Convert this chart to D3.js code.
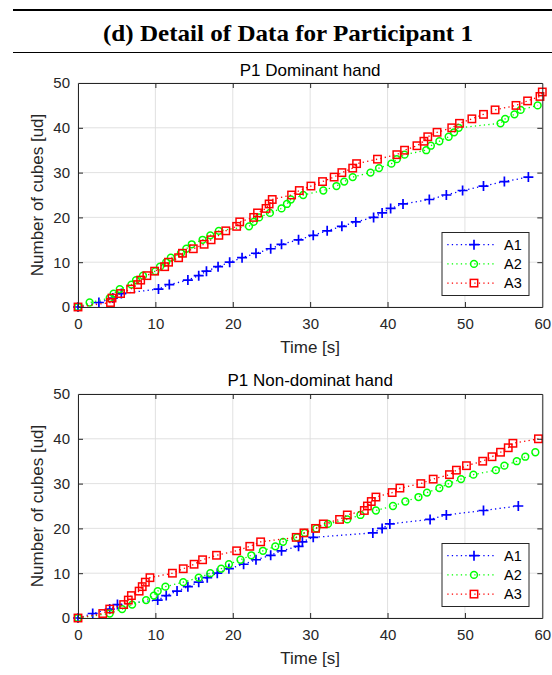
<!DOCTYPE html>
<html><head><meta charset="utf-8">
<script src="https://cdn.jsdelivr.net/npm/d3@7"></script>
<style>body{margin:0;background:#fff}</style>
</head><body>
<svg id="c" width="552" height="675"></svg>
<script>
// ---------- data ----------
const headerTitle = "(d) Detail of Data for Participant 1";
const panelTitles = ["P1 Dominant hand", "P1 Non-dominat hand"];
const xLabel = "Time [s]";
const yLabel = "Number of cubes [ud]";
const seriesNames = ["A1", "A2", "A3"];
const xTicks = [0, 10, 20, 30, 40, 50, 60];
const yTicks = [0, 10, 20, 30, 40, 50];

// Dominant hand
const domA1T = [0,2.7,4.5,5.6,10.4,11.8,14.2,15.6,16.6,18.1,19.6,21.2,23.0,24.9,26.3,28.5,30.4,32.2,34.1,35.9,38.2,39.3,40.4,42.0,45.4,47.6,49.7,52.4,55.1,58.2];
const domA1V = [0,1,2,3,4,5,6,7,8,9,10,11,12,13,14,15,16,17,18,19,20,21,22,23,24,25,26,27,28,29];
const domA2T = [0,1.5,4.1,4.6,5.4,6.9,7.5,8.4,10.0,10.6,11.4,12.0,13.3,14.0,14.7,16.1,17.1,18.2,22.1,22.7,23.4,24.8,26.3,27.0,27.5,29.1,31.7,33.4,34.4,35.5,37.8,38.9,40.5,41.2,42.2,45.0,45.6,46.7,47.9,48.6,49.2,54.6,55.2,56.4,57.2,59.4];
const domA2V = [0,1,2,3,4,5,6,7,8,9,10,11,12,13,14,15,16,17,18,19,20,21,22,23,24,25,26,27,28,29,30,31,32,33,34,35,36,37,38,39,40,41,42,43,44,45];
const domA3T = [0,4.2,4.4,5.5,6.8,7.7,8.1,8.9,9.9,11.2,11.7,13.0,13.5,14.9,16.3,17.2,18.2,19.1,20.5,20.9,22.7,23.2,24.3,24.7,25.1,27.6,28.6,30.1,31.6,33.1,34.1,35.5,36.0,38.7,41.2,42.2,43.8,44.7,45.2,46.4,48.3,49.3,50.9,52.4,53.9,56.6,58.1,59.7,60.0];
const domA3V = [0,1,2,3,4,5,6,7,8,9,10,11,12,13,14,15,16,17,18,19,20,21,22,23,24,25,26,27,28,29,30,31,32,33,34,35,36,37,38,39,40,41,42,43,44,45,46,47,48];

// Non-dominant hand
const nonA1T = [0,1.9,4.1,5.1,10.3,11.4,12.8,14.2,15.6,16.7,18.0,19.5,21.4,23.0,24.9,26.3,28.5,29.0,30.4,38.1,39.3,40.3,45.5,47.6,52.4,56.9];
const nonA1V = [0,1,2,3,4,5,6,7,8,9,10,11,12,13,14,15,16,17,18,19,20,21,22,23,24,25];
const nonA2T = [0,4.1,5.7,7.0,8.8,9.8,10.3,11.3,13.6,15.6,17.1,18.5,19.5,21.0,22.4,23.9,25.5,26.5,28.3,29.3,30.8,32.3,34.8,36.5,38.5,40.7,42.3,44.0,45.1,46.7,47.9,49.5,51.1,54.0,55.1,56.7,57.8,59.1];
const nonA2V = [0,1,2,3,4,5,6,7,8,9,10,11,12,13,14,15,16,17,18,19,20,21,22,23,24,25,26,27,28,29,30,31,32,33,34,35,36,37];
const nonA3T = [0,3.2,4.1,5.9,6.5,6.9,7.9,8.3,8.7,9.3,12.2,13.6,15.0,16.1,17.9,20.5,22.2,23.6,28.2,29.2,30.7,31.7,33.8,34.8,37.0,37.4,37.9,38.5,40.6,41.6,44.3,45.9,48.0,48.9,50.2,52.3,53.5,54.6,55.6,56.2,59.5];
const nonA3V = [0,1,2,3,4,5,6,7,8,9,10,11,12,13,14,15,16,17,18,19,20,21,22,23,24,25,26,27,28,29,30,31,32,33,34,35,36,37,38,39,40];

// ---------- styling ----------
const SANS = "'Liberation Sans', Arial, Helvetica, sans-serif";
const AX = "#262626";
const GRID = "#dedede";
const colors = ["#0000ff", "#00ff00", "#ff0000"];
const markers = ["plus", "circle", "square"];

const svg = d3.select("#c");

// header
svg.append("line").attr("x1", 13).attr("x2", 552).attr("y1", 10).attr("y2", 10)
  .attr("stroke", "#000").attr("stroke-width", 1.8);
svg.append("line").attr("x1", 13).attr("x2", 552).attr("y1", 52.5).attr("y2", 52.5)
  .attr("stroke", "#000").attr("stroke-width", 1);
const ht = svg.append("text").attr("x", 288).attr("y", 40.5).attr("text-anchor", "middle")
  .attr("font-family", "'Liberation Serif', 'Times New Roman', serif").attr("font-weight", "bold")
  .attr("font-size", 24).attr("fill", "#000").text(headerTitle);
const w = ht.node().getComputedTextLength();
if (Math.abs(w - 370) > 4) ht.attr("textLength", 370).attr("lengthAdjust", "spacingAndGlyphs");

function drawMarker(g, type, color) {
  if (type === "plus") {
    g.append("path").attr("d", "M-5,0H5M0,-5V5").attr("stroke", color)
      .attr("stroke-width", 1.7).attr("fill", "none");
  } else if (type === "circle") {
    g.append("circle").attr("r", 3.4).attr("stroke", color)
      .attr("stroke-width", 1.5).attr("fill", "none");
  } else {
    g.append("rect").attr("x", -3.7).attr("y", -3.7).attr("width", 7.4).attr("height", 7.4)
      .attr("stroke", color).attr("stroke-width", 1.5).attr("fill", "none");
  }
}

function panel(top, bottom, title, titleY, series) {
  const x = d3.scaleLinear().domain([0, 60]).range([78, 542.3]);
  const y = d3.scaleLinear().domain([0, 50]).range([bottom, top]);
  const g = svg.append("g");

  // grid
  g.append("g").selectAll("line").data(xTicks).join("line")
    .attr("x1", d => x(d)).attr("x2", d => x(d)).attr("y1", top).attr("y2", bottom)
    .attr("stroke", GRID).attr("stroke-width", 0.9);
  g.append("g").selectAll("line").data(yTicks).join("line")
    .attr("y1", d => y(d)).attr("y2", d => y(d)).attr("x1", x(0)).attr("x2", x(60))
    .attr("stroke", GRID).attr("stroke-width", 0.9);

  // series
  series.forEach((s, i) => {
    const pts = s.t.map((t, k) => [t, s.v[k]]);
    g.append("path").datum(pts)
      .attr("d", d3.line().x(d => x(d[0])).y(d => y(d[1])))
      .attr("fill", "none").attr("stroke", colors[i]).attr("stroke-width", 1.3)
      .attr("stroke-dasharray", "1.3,3.2");
    const mg = g.append("g");
    pts.forEach(p => {
      const m = mg.append("g").attr("transform", `translate(${x(p[0])},${y(p[1])})`);
      drawMarker(m, markers[i], colors[i]);
    });
  });

  // axes
  const xa = g.append("g").attr("transform", `translate(0,${bottom})`)
    .call(d3.axisBottom(x).tickValues(xTicks).tickSizeInner(-5).tickSizeOuter(0).tickPadding(11.5));
  const xt = g.append("g").attr("transform", `translate(0,${top})`)
    .call(d3.axisTop(x).tickValues(xTicks).tickSizeInner(-5).tickSizeOuter(0).tickFormat(""));
  const ya = g.append("g").attr("transform", `translate(${x(0)},0)`)
    .call(d3.axisLeft(y).tickValues(yTicks).tickSizeInner(-5).tickSizeOuter(0).tickPadding(8));
  const yr = g.append("g").attr("transform", `translate(${x(60)},0)`)
    .call(d3.axisRight(y).tickValues(yTicks).tickSizeInner(-5).tickSizeOuter(0).tickFormat(""));
  [xa, xt, ya, yr].forEach(a => {
    a.select(".domain").attr("stroke", AX).attr("stroke-width", 1);
    a.selectAll(".tick line").attr("stroke", AX).attr("stroke-width", 1);
    a.selectAll("text").attr("font-family", SANS).attr("font-size", 15).attr("fill", AX);
  });
  // remove end ticks duplication on box edges
  xa.selectAll(".tick line").filter(d => d === 0 || d === 60).remove();
  xt.selectAll(".tick line").filter(d => d === 0 || d === 60).remove();
  ya.selectAll(".tick line").filter(d => d === 0 || d === 50).remove();
  yr.selectAll(".tick line").filter(d => d === 0 || d === 50).remove();

  // titles and labels
  g.append("text").attr("x", (x(0) + x(60)) / 2).attr("y", titleY).attr("text-anchor", "middle")
    .attr("font-family", SANS).attr("font-size", 17).attr("fill", "#000").text(title);
  g.append("text").attr("x", (x(0) + x(60)) / 2).attr("y", bottom + 45.7).attr("text-anchor", "middle")
    .attr("font-family", SANS).attr("font-size", 17).attr("fill", AX).text(xLabel);
  g.append("text").attr("transform", `translate(43,${(top + bottom) / 2}) rotate(-90)`)
    .attr("text-anchor", "middle").attr("font-family", SANS).attr("font-size", 17)
    .attr("fill", AX).text(yLabel);

  // legend
  const lx0 = 442, lx1 = 529, ly1 = bottom - 11.5, ly0 = ly1 - 63;
  const lg = g.append("g");
  lg.append("rect").attr("x", lx0).attr("y", ly0).attr("width", lx1 - lx0).attr("height", ly1 - ly0)
    .attr("fill", "#fff").attr("stroke", AX).attr("stroke-width", 1);
  seriesNames.forEach((n, i) => {
    const cy = ly0 + 12.2 + i * 19.2;
    lg.append("line").attr("x1", 447.3).attr("x2", 496.3).attr("y1", cy).attr("y2", cy)
      .attr("stroke", colors[i]).attr("stroke-width", 1.3).attr("stroke-dasharray", "1.3,3.2");
    const m = lg.append("g").attr("transform", `translate(474,${cy})`);
    drawMarker(m, markers[i], colors[i]);
    lg.append("text").attr("x", 504).attr("y", cy).attr("dy", "0.36em")
      .attr("font-family", SANS).attr("font-size", 14.5).attr("fill", "#000").text(n);
  });
}

panel(83, 307, panelTitles[0], 76, [
  {t: domA1T, v: domA1V}, {t: domA2T, v: domA2V}, {t: domA3T, v: domA3V}
]);
panel(394, 618, panelTitles[1], 386, [
  {t: nonA1T, v: nonA1V}, {t: nonA2T, v: nonA2V}, {t: nonA3T, v: nonA3V}
]);
</script>
</body></html>
